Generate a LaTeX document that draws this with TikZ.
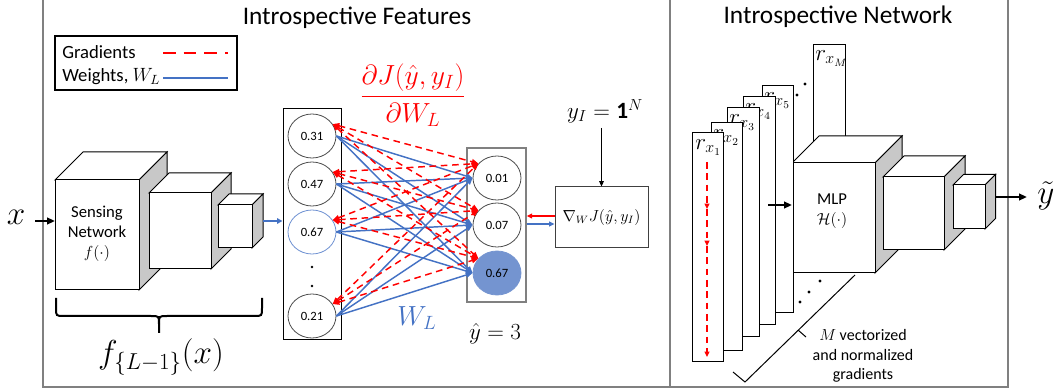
\documentclass[tikz,border=0pt]{standalone}
\usepackage{fontspec}
\setmainfont{Carlito}
\usepackage{amsmath}
\usetikzlibrary{arrows.meta,shapes.geometric,calc}

\definecolor{wblue}{RGB}{68,114,196}
\definecolor{lblue}{RGB}{110,145,210}
\definecolor{fblue}{RGB}{116,148,208}
\definecolor{gred}{RGB}{255,0,0}
\definecolor{framegray}{RGB}{128,128,128}
\definecolor{sidegray}{RGB}{200,200,200}

% 3-D block: front top-left (x1,y1), front bottom-right (x2,y2), depth d
\newcommand\boxthreed[5]{%
  \draw[cube] (#1,#2) -- ({#1+#5},{#2-#5}) -- ({#3+#5},{#2-#5}) -- (#3,#2) -- cycle;
  \draw[cube,fill=sidegray] (#3,#2) -- ({#3+#5},{#2-#5}) -- ({#3+#5},{#4-#5}) -- (#3,#4) -- cycle;
  \draw[cube] (#1,#2) rectangle (#3,#4);
}

\tikzset{
  frame/.style={draw=framegray, line width=1.5pt},
  cube/.style={draw=black, fill=white, line width=0.75pt},
  sheet/.style={draw=black, fill=white, line width=0.75pt},
  neuron/.style={ellipse, draw=black!70, line width=0.6pt, fill=white,
    minimum width=36pt, minimum height=33pt, inner sep=0pt,
    font=\fontsize{9.5}{11}\selectfont},
  wline/.style={wblue, line width=1.1pt, -{Triangle[length=5pt,width=4pt]}},
  gline/.style={gred, line width=1.1pt, dash pattern=on 5pt off 3.5pt,
    {Triangle[length=5pt,width=4pt]}-{Triangle[length=5pt,width=4pt]}},
  gdown/.style={gred, line width=1.1pt, dash pattern=on 5pt off 3.5pt,
    -{Triangle[length=4pt,width=3.5pt]}},
  blk/.style={black, line width=1.5pt, -{Triangle[length=6pt,width=5pt]}},
  lbl/.style={inner sep=0pt, anchor=north west, font=\fontsize{16.5}{18}\selectfont},
}

\begin{document}
\begin{tikzpicture}[x=0.75pt, y=-0.75pt]
\useasboundingbox (0,0) rectangle (1058,392);

% ---------- panel frames ----------
\draw[frame] (43,0) -- (43,387) -- (1008,387) -- (1008,0);
\draw[frame] (670,0) -- (670,387);

% ---------- titles ----------
\node[font=\fontsize{19}{23}\selectfont] (t1) at (357,18) {Introspective Features};
\node[font=\fontsize{19}{23}\selectfont] (t2) at (838,17) {Introspective Network};

% ---------- legend ----------
\node[draw, line width=0.9pt, minimum width=182*0.75pt, minimum height=54*0.75pt, inner sep=0pt] (leg) at (146,63) {};
\node[anchor=west, inner sep=0pt, font=\fontsize{14}{17}\selectfont] (lg1) at (62,52) {Gradients};
\node[anchor=west, inner sep=0pt, font=\fontsize{14}{17}\selectfont] (lg2) at (62,77) {Weights, $W_L$};
\coordinate (lga) at (163,53);
\coordinate (lgb) at (228,53);
\coordinate (lgc) at (163,78);
\coordinate (lgd) at (228,78);
\draw[gred, line width=2pt, dash pattern=on 9.5pt off 6pt] (lga) -- (lgb);
\draw[wblue, line width=2pt] (lgc) -- (lgd);

% ---------- sensing network ----------
\node[font=\fontsize{25}{29}\selectfont] (xin) at (16,217) {$x$};
\coordinate (xs) at (35,221);
\coordinate (b1in) at (55,221);
\draw[blk] (xs) -- (b1in);

\boxthreed{55}{180}{139}{290}{28}
\boxthreed{149}{193}{211}{269}{20}
\boxthreed{218}{205}{252}{248}{11}
\node[align=center, font=\fontsize{12.5}{15}\selectfont] (sn) at (97,234) {Sensing\\Network\\$f(\cdot)$};

% brace under the sensing network
\draw[line width=1.5pt] (56,298) -- (56,308) .. controls (56,316) .. (64,316) -- (151,316)
  .. controls (159,316) .. (159,324) -- (159,333);
\draw[line width=1.5pt] (159,324) .. controls (159,316) .. (167,316) -- (254,316)
  .. controls (262,316) .. (262,308) -- (262,298);
\node[font=\fontsize{23}{27}\selectfont] (fl) at (161,357) {$f_{\{L-1\}}(x)$};

% ---------- layer L-1 activations ----------
\node[draw, line width=0.75pt, minimum width=58*0.75pt, minimum height=231*0.75pt, inner sep=0pt] (lcol) at (312,224.5) {};
\node[neuron] (l1) at (312,136) {0.31};
\node[neuron] (l2) at (312,184) {0.47};
\node[neuron, draw=lblue] (l3) at (312,232) {0.67};
\node[neuron] (l4) at (312,316) {0.21};
\fill (312,267) circle (1pt);
\fill (312,286) circle (1pt);

\coordinate (b3o) at (263,221);
\draw[wblue, line width=1.1pt, -{Triangle[length=4pt,width=4pt]}] (b3o) -- (b3o -| lcol.west);

% ---------- output layer ----------
\node[draw=framegray, line width=1.1pt, minimum width=59*0.75pt, minimum height=154*0.75pt, inner sep=0pt] (rcol) at (496.5,225) {};
\node[neuron] (r1) at (497,178) {0.01};
\node[neuron] (r2) at (497,225) {0.07};
\node[neuron, draw=fblue, fill=fblue] (r3) at (497,273) {0.67};

% weights and gradients
\foreach \a in {l1,l2,l3,l4}{
  \foreach \b in {r1,r2,r3}{
    \draw[wline] (\a.east) -- (\b.west);
  }
}
\foreach \a in {l1,l2,l3,l4}{
  \foreach \b in {r1,r2,r3}{
    \draw[gline] (\a.30) -- (\b.142);
  }
}

\node[text=gred, font=\fontsize{21.5}{25}\selectfont] (dJ) at (413,95)
  {$\dfrac{\partial J(\hat{y},y_I)}{\partial W_L}$};
\node[text=wblue, font=\fontsize{21}{25}\selectfont] (wl) at (417,318) {$W_L$};
\node[font=\fontsize{16.5}{19}\selectfont] (yhat) at (495,334) {$\hat{y}=3$};

% ---------- loss gradient block ----------
\node[draw=black!75, line width=0.75pt, minimum width=93*0.75pt, minimum height=61*0.75pt, inner sep=0pt,
  font=\fontsize{12}{14}\selectfont] (gbox) at (601.5,217.5) {$\nabla_W J(\hat{y},y_I)$};
\node[font=\fontsize{17.5}{20}\selectfont] (yI) at (605,111) {$y_I=\mathbf{1}^N$};
\coordinate (yIs) at (601.5,128);
\draw[black, line width=0.75pt, -{Triangle[length=4pt,width=3.5pt]}] (yIs) -- (gbox.north);
\coordinate (gr1) at ($(gbox.west)+(0,-1.5)$);
\coordinate (gb1) at ($(gbox.west)+(0,6.5)$);
\draw[gred, line width=1.1pt, -{Triangle[length=4pt,width=3.5pt]}] (gr1) -- (gr1 -| rcol.east);
\draw[wblue, line width=1.1pt, -{Triangle[length=4pt,width=3.5pt]}] (gb1 -| rcol.east) -- (gb1);

% ---------- introspective network ----------
\draw[sheet] (813,45) rectangle (845,200);
\node[lbl] (rM) at (815,50) {$r_{x_M}$};

\boxthreed{792}{163}{875}{273}{27}
\boxthreed{883}{177}{944}{250}{21}
\boxthreed{953}{185}{985}{229}{10.5}
\node[align=center, font=\fontsize{12.5}{15}\selectfont] (mlp) at (832,211.5) {MLP\\$\mathcal{H}(\cdot)$};

\draw[sheet] (762,86) rectangle (793,313);
\node[lbl] (r5) at (764,92) {$r_{x_5}$};
\draw[sheet] (743,97) rectangle (775,325);
\node[lbl] (r4) at (745,103) {$r_{x_4}$};
\draw[sheet] (727,108) rectangle (759,337);
\node[lbl] (r3l) at (729,114) {$r_{x_3}$};
\draw[sheet] (711,123) rectangle (742,351);
\node[lbl] (r2l) at (713,129) {$r_{x_2}$};
\draw[sheet] (692,133) rectangle (723,362);
\node[lbl] (r1l) at (695,139) {$r_{x_1}$};

% gradient vector inside the first sheet
\coordinate (g0) at (707,162);
\coordinate (g1) at (707,209);
\coordinate (g2) at (707,246);
\coordinate (g3) at (707,357);
\draw[gdown] (g0) -- (g1);
\draw[gdown] (g1) -- (g2);
\draw[gdown] (g2) -- (g3);

% ellipsis dots
\fill (797,95) circle (1.2pt);
\fill (805,84) circle (1.2pt);
\fill (800,302) circle (1.2pt);
\fill (809,292) circle (1.2pt);
\fill (820,281) circle (1.2pt);

\coordinate (ma) at (768,205);
\coordinate (mb) at (792,205);
\draw[blk] (ma) -- (mb);

% bracket grouping the gradient sheets
\draw[line width=0.75pt] (733,372) -- (745,382) -- (855,275);
\draw[line width=0.75pt] (798,330) -- (806,337);
\node[align=center, font=\fontsize{12}{14.6}\selectfont] (mtext) at (863,356)
  {$M$ vectorized\\and normalized\\gradients};

\coordinate (oa) at (996,197);
\coordinate (ob) at (1027,197);
\draw[blk] (oa) -- (ob);
\node[font=\fontsize{25}{29}\selectfont] (yt) at (1046,196) {$\tilde{y}$};
\end{tikzpicture}
\end{document}
